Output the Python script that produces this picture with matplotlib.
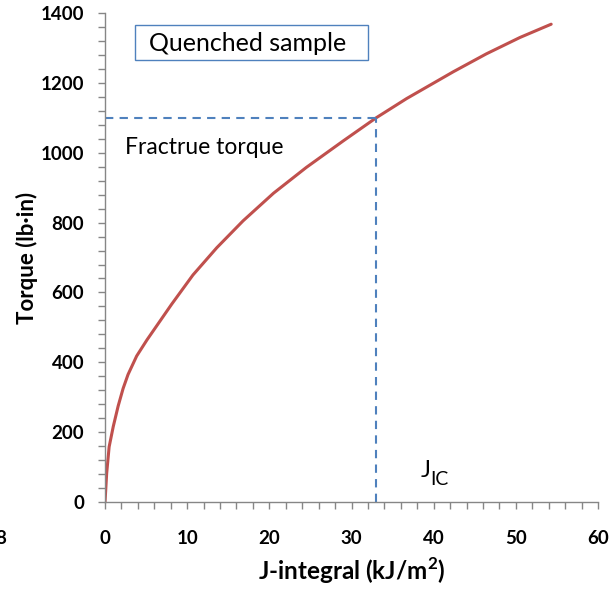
import matplotlib
matplotlib.use("Agg")
from matplotlib import pyplot as plt
from matplotlib.patches import Rectangle
from matplotlib.ticker import MultipleLocator

# J-integral (kJ/m^2) vs torque (lb.in)
j_integral = [0, 0.2, 0.5, 1.0, 1.6, 2.2, 2.8, 3.85, 5.1, 6.1, 8.1, 10.7, 13.6,
              16.8, 20.5, 24.5, 29.0, 33.0, 36.7, 42.4, 46.4, 50.5, 54.3]
torque = [0, 82, 158, 216, 275, 325, 365, 418, 464, 498, 566, 650, 728,
          805, 884, 958, 1034, 1100, 1155, 1232, 1283, 1330, 1368]

j_ic = 33.0
fracture_torque = 1100

plt.rcParams['font.family'] = ['Lato', 'DejaVu Sans']

fig = plt.figure(figsize=(6.16, 5.92), dpi=100)
ax = fig.add_axes([0.1705, 0.152, 0.8003, 0.826])

ax.plot(j_integral, torque, color='#C0504D', lw=2.2, solid_capstyle='round',
        solid_joinstyle='round')
# dashed guide lines at the fracture point
ax.plot([0, j_ic], [fracture_torque, fracture_torque], color='#4F81BD', lw=1.5, ls=(0, (4, 3)))
ax.plot([j_ic, j_ic], [0, fracture_torque], color='#4F81BD', lw=1.5, ls=(0, (4, 3)))

ax.set_xlim(0, 60)
ax.set_ylim(0, 1400)
ax.xaxis.set_major_locator(MultipleLocator(10))
ax.xaxis.set_minor_locator(MultipleLocator(2))
ax.yaxis.set_major_locator(MultipleLocator(200))
ax.yaxis.set_minor_locator(MultipleLocator(40))

for s in ['top', 'right']:
    ax.spines[s].set_visible(False)
for s in ['left', 'bottom']:
    ax.spines[s].set_color('#868686')
    ax.spines[s].set_linewidth(1.0)
ax.tick_params(which='both', direction='out', color='#868686', width=1.0)
ax.tick_params(which='major', length=5, labelsize=13.5)
ax.tick_params(which='minor', length=5)
ax.tick_params(axis='x', which='major', pad=15)
ax.tick_params(axis='y', which='major', pad=10)
for lab in ax.get_xticklabels() + ax.get_yticklabels():
    lab.set_fontweight('bold')

ax.set_xlabel('J-integral (kJ/m$^\\mathregular{2}$)', fontsize=17.5, fontweight='bold', labelpad=6)
ax.set_ylabel('Torque (lb·in)', fontsize=16, fontweight='bold', labelpad=2)

# title box
ax.add_patch(Rectangle((0.0609, 0.9039), 0.4726, 0.0716, transform=ax.transAxes,
                       fill=False, ec='#4F81BD', lw=1))
ax.text(5.35, 1313, 'Quenched sample', fontsize=18, va='center', ha='left')
ax.text(2.4, 1016, 'Fractrue torque', fontsize=16.5, va='center', ha='left')
ax.text(38.4, 90, 'J', fontsize=17, va='center', ha='left')
ax.text(39.6, 64, 'IC', fontsize=14, va='center', ha='left')

# stray label cut at the left edge of the original image
fig.text(-0.008, 0.091, '8', fontsize=13.5, fontweight='bold', va='center', ha='left')

fig.savefig('out.png', dpi=100)
